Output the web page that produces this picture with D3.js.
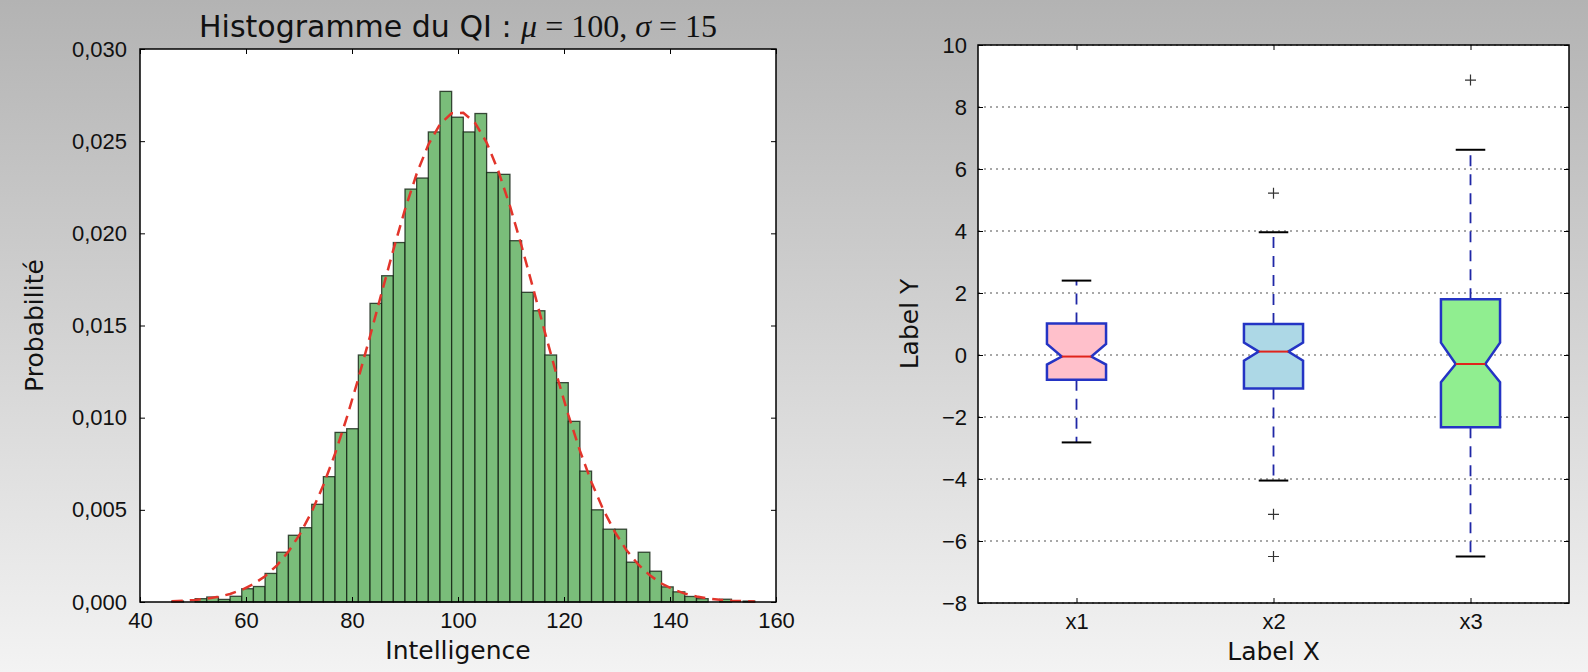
<!DOCTYPE html>
<html>
<head>
<meta charset="utf-8">
<script src="https://cdn.jsdelivr.net/npm/d3@7"></script>
<style>
  body { margin: 0; }
  svg { display: block; font-family: "DejaVu Sans", sans-serif; }
</style>
</head>
<body>
<script>
// ---- histogram data (density, 50 bins) ----
const binEdges = [46.0, 48.2, 50.4, 52.6, 54.8, 57.0, 59.2, 61.4, 63.6, 65.8,
  68.0, 70.2, 72.4, 74.6, 76.8, 79.0, 81.2, 83.4, 85.6, 87.8,
  90.0, 92.2, 94.4, 96.6, 98.8, 101.0, 103.2, 105.4, 107.6, 109.8,
  112.0, 114.2, 116.4, 118.6, 120.8, 123.0, 125.2, 127.4, 129.6, 131.8,
  134.0, 136.2, 138.4, 140.6, 142.8, 145.0, 147.2, 149.4, 151.6, 153.8, 156.0];
const density = [0.00005, 0, 0.00018, 0.00027, 0.00014, 0.00031, 0.00072, 0.00084, 0.00155, 0.0027,
  0.00362, 0.00403, 0.0053, 0.0068, 0.0092, 0.0094, 0.0134, 0.0162, 0.0177, 0.0195,
  0.0224, 0.0230, 0.0255, 0.0277, 0.0263, 0.0255, 0.0265, 0.0233, 0.0232, 0.0196,
  0.0168, 0.0158, 0.0134, 0.0119, 0.0098, 0.0071, 0.0050, 0.00395, 0.00395, 0.00216,
  0.0027, 0.00167, 0.00082, 0.00055, 0.0003, 0.00018, 0, 0.00015, 0, 0.00005];
// normal curve read at the bin edges
const pdfValues = [0.0000408, 0.0000685, 0.0001124, 0.0001806, 0.0002839, 0.000437, 0.000658, 0.000970, 0.001400, 0.001977,
  0.002732, 0.003697, 0.004894, 0.006341, 0.008042, 0.009982, 0.012126, 0.014417, 0.016776, 0.019106,
  0.021297, 0.023233, 0.024806, 0.025922, 0.026511, 0.026537, 0.025998, 0.024927, 0.023392, 0.021485,
  0.019313, 0.016990, 0.014630, 0.012329, 0.010168, 0.008208, 0.006485, 0.005015, 0.003796, 0.002811,
  0.002037, 0.001445, 0.001004, 0.000682, 0.000454, 0.000296, 0.000188, 0.000117, 0.0000717, 0.0000428, 0.0000250];
const histXTicks = [40, 60, 80, 100, 120, 140, 160];
const histYTicks = [0, 0.005, 0.010, 0.015, 0.020, 0.025, 0.030];

// ---- boxplot data ----
const boxCategories = ["x1", "x2", "x3"];
const boxColors = ["pink", "lightblue", "lightgreen"];
const boxQ1 = [-0.80, -1.08, -2.33];
const boxQ3 = [1.02, 1.00, 1.80];
const boxMedian = [-0.05, 0.11, -0.29];
const notchLow = [-0.31, -0.18, -0.88];
const notchHigh = [0.36, 0.40, 0.40];
const whiskerLow = [-2.82, -4.05, -6.50];
const whiskerHigh = [2.40, 3.96, 6.62];
const outliers = [[], [5.22, -5.14, -6.50], [8.87]];
const boxYTicks = [-8, -6, -4, -2, 0, 2, 4, 6, 8, 10];

const W = 1588, H = 672;
const svg = d3.select("body").append("svg").attr("width", W).attr("height", H);

// slide background
const grad = svg.append("defs").append("linearGradient")
  .attr("id", "bg").attr("x1", 0).attr("y1", 0).attr("x2", 0).attr("y2", 1);
grad.append("stop").attr("offset", "0%").attr("stop-color", "#b3b3b3");
grad.append("stop").attr("offset", "50%").attr("stop-color", "#d3d3d3");
grad.append("stop").attr("offset", "100%").attr("stop-color", "#f3f3f3");
svg.append("rect").attr("width", W).attr("height", H).attr("fill", "url(#bg)");

function styleAxis(g, size) {
  g.select(".domain").remove();
  g.selectAll(".tick line").attr("stroke", "#000").attr("stroke-width", 1);
  g.selectAll(".tick text").attr("fill", "#111").style("font-size", size + "px");
}

// ================= left : histogram =================
const hp = {left: 140, right: 776, top: 49, bottom: 602};
const x = d3.scaleLinear().domain([40, 160]).range([hp.left, hp.right]);
const y = d3.scaleLinear().domain([0, 0.03]).range([hp.bottom, hp.top]);
const frFormat = d3.formatLocale({decimal: ",", thousands: " ", grouping: [3], currency: ["", "€"]}).format(".3f");

svg.append("rect").attr("x", hp.left).attr("y", hp.top)
  .attr("width", hp.right - hp.left).attr("height", hp.bottom - hp.top).attr("fill", "#fff");

const bins = density.map((d, i) => ({x0: binEdges[i], x1: binEdges[i + 1], v: d}));
svg.append("g").selectAll("rect").data(bins).enter().append("rect")
  .attr("x", d => x(d.x0))
  .attr("y", d => y(d.v))
  .attr("width", d => x(d.x1) - x(d.x0))
  .attr("height", d => y(0) - y(d.v))
  .attr("fill", "#7abd7a")
  .attr("stroke", "#132013").attr("stroke-opacity", 0.8).attr("stroke-width", 1.3);

const pdfLine = d3.line().x((d, i) => x(binEdges[i])).y(d => y(d));
svg.append("path").datum(pdfValues)
  .attr("d", pdfLine)
  .attr("fill", "none").attr("stroke", "#e2352b").attr("stroke-width", 2.5)
  .attr("stroke-dasharray", "11,7");

svg.append("g").attr("transform", `translate(0,${hp.bottom})`)
  .call(d3.axisBottom(x).tickValues(histXTicks).tickSizeInner(-5).tickSizeOuter(0).tickPadding(10))
  .call(g => styleAxis(g, 22));
svg.append("g").attr("transform", `translate(0,${hp.top})`)
  .call(d3.axisTop(x).tickValues(histXTicks).tickSizeInner(-5).tickSizeOuter(0).tickFormat(""))
  .call(g => styleAxis(g, 22));
svg.append("g").attr("transform", `translate(${hp.left},0)`)
  .call(d3.axisLeft(y).tickValues(histYTicks).tickFormat(frFormat).tickSizeInner(-5).tickSizeOuter(0).tickPadding(13))
  .call(g => styleAxis(g, 22));
svg.append("g").attr("transform", `translate(${hp.right},0)`)
  .call(d3.axisRight(y).tickValues(histYTicks).tickSizeInner(-5).tickSizeOuter(0).tickFormat(""))
  .call(g => styleAxis(g, 22));

svg.append("rect").attr("x", hp.left).attr("y", hp.top)
  .attr("width", hp.right - hp.left).attr("height", hp.bottom - hp.top)
  .attr("fill", "none").attr("stroke", "#000").attr("stroke-width", 1.5);

// title with math part
const title = svg.append("text").attr("x", (hp.left + hp.right) / 2).attr("y", 37)
  .attr("text-anchor", "middle").attr("fill", "#111").style("font-size", "30px");
title.append("tspan").text("Histogramme du QI : ");
const mathFont = "'Liberation Serif', 'DejaVu Serif', serif";
title.append("tspan").style("font-family", mathFont).style("font-style", "italic").style("font-size", "32px").text("μ");
title.append("tspan").style("font-family", mathFont).style("font-size", "32px").text(" = 100, ");
title.append("tspan").style("font-family", mathFont).style("font-style", "italic").style("font-size", "32px").text("σ");
title.append("tspan").style("font-family", mathFont).style("font-size", "32px").text(" = 15");

svg.append("text").attr("x", (hp.left + hp.right) / 2).attr("y", 659)
  .attr("text-anchor", "middle").attr("fill", "#111").style("font-size", "25px").text("Intelligence");
svg.append("text").attr("transform", `translate(43,${(hp.top + hp.bottom) / 2}) rotate(-90)`)
  .attr("text-anchor", "middle").attr("fill", "#111").style("font-size", "25px").text("Probabilité");

// ================= right : boxplot =================
const bp = {left: 978, right: 1569, top: 45, bottom: 603};
const xb = d3.scalePoint().domain(boxCategories).range([bp.left, bp.right]).padding(0.5);
const yb = d3.scaleLinear().domain([-8, 10]).range([bp.bottom, bp.top]);
const halfW = xb.step() * 0.15, capW = halfW / 2;

svg.append("rect").attr("x", bp.left).attr("y", bp.top)
  .attr("width", bp.right - bp.left).attr("height", bp.bottom - bp.top).attr("fill", "#fff");

svg.append("g").selectAll("line").data(boxYTicks).enter().append("line")
  .attr("x1", bp.left).attr("x2", bp.right)
  .attr("y1", d => yb(d)).attr("y2", d => yb(d))
  .attr("stroke", "#8a8a8a").attr("stroke-width", 1.5).attr("stroke-dasharray", "2,4");

const boxes = boxCategories.map((c, i) => ({
  c, color: boxColors[i], q1: boxQ1[i], q3: boxQ3[i], med: boxMedian[i],
  nlo: notchLow[i], nhi: notchHigh[i], wlo: whiskerLow[i], whi: whiskerHigh[i], out: outliers[i]
}));

const g = svg.append("g");
const bx = g.selectAll("g.box").data(boxes).enter().append("g").attr("class", "box");

// whiskers
bx.append("line").attr("x1", d => xb(d.c)).attr("x2", d => xb(d.c))
  .attr("y1", d => yb(d.q3)).attr("y2", d => yb(d.whi))
  .attr("stroke", "#1f27a6").attr("stroke-width", 1.8).attr("stroke-dasharray", "11,8");
bx.append("line").attr("x1", d => xb(d.c)).attr("x2", d => xb(d.c))
  .attr("y1", d => yb(d.q1)).attr("y2", d => yb(d.wlo))
  .attr("stroke", "#1f27a6").attr("stroke-width", 1.8).attr("stroke-dasharray", "11,8");
// caps
bx.append("line").attr("x1", d => xb(d.c) - capW).attr("x2", d => xb(d.c) + capW)
  .attr("y1", d => yb(d.whi)).attr("y2", d => yb(d.whi))
  .attr("stroke", "#000").attr("stroke-width", 2);
bx.append("line").attr("x1", d => xb(d.c) - capW).attr("x2", d => xb(d.c) + capW)
  .attr("y1", d => yb(d.wlo)).attr("y2", d => yb(d.wlo))
  .attr("stroke", "#000").attr("stroke-width", 2);

// notched boxes
const boxLine = d3.line();
bx.append("path")
  .attr("d", d => {
    const c = xb(d.c);
    return boxLine([
      [c - halfW, yb(d.q1)], [c + halfW, yb(d.q1)], [c + halfW, yb(d.nlo)],
      [c + capW, yb(d.med)], [c + halfW, yb(d.nhi)], [c + halfW, yb(d.q3)],
      [c - halfW, yb(d.q3)], [c - halfW, yb(d.nhi)], [c - capW, yb(d.med)],
      [c - halfW, yb(d.nlo)]
    ]) + "Z";
  })
  .attr("fill", d => d.color)
  .attr("stroke", "#2434c4").attr("stroke-width", 2.5).attr("stroke-linejoin", "miter");
// medians
bx.append("line").attr("x1", d => xb(d.c) - capW).attr("x2", d => xb(d.c) + capW)
  .attr("y1", d => yb(d.med)).attr("y2", d => yb(d.med))
  .attr("stroke", "#e0241c").attr("stroke-width", 2);
// outliers
bx.selectAll("path.flier").data(d => d.out.map(v => ({c: d.c, v}))).enter().append("path")
  .attr("class", "flier")
  .attr("d", d => {
    const cx = xb(d.c), cy = yb(d.v), s = 5.5;
    return `M${cx - s},${cy}H${cx + s}M${cx},${cy - s}V${cy + s}`;
  })
  .attr("stroke", "#333").attr("stroke-width", 1.2);

svg.append("g").attr("transform", `translate(0,${bp.bottom})`)
  .call(d3.axisBottom(xb).tickSizeInner(-5).tickSizeOuter(0).tickPadding(10))
  .call(g => styleAxis(g, 22));
svg.append("g").attr("transform", `translate(0,${bp.top})`)
  .call(d3.axisTop(xb).tickSizeInner(-5).tickSizeOuter(0).tickFormat(""))
  .call(g => styleAxis(g, 22));
svg.append("g").attr("transform", `translate(${bp.left},0)`)
  .call(d3.axisLeft(yb).tickValues(boxYTicks).tickSizeInner(-5).tickSizeOuter(0).tickPadding(11))
  .call(g => styleAxis(g, 22));
svg.append("g").attr("transform", `translate(${bp.right},0)`)
  .call(d3.axisRight(yb).tickValues(boxYTicks).tickSizeInner(-5).tickSizeOuter(0).tickFormat(""))
  .call(g => styleAxis(g, 22));

svg.append("rect").attr("x", bp.left).attr("y", bp.top)
  .attr("width", bp.right - bp.left).attr("height", bp.bottom - bp.top)
  .attr("fill", "none").attr("stroke", "#000").attr("stroke-width", 1.5);

svg.append("text").attr("x", (bp.left + bp.right) / 2).attr("y", 660)
  .attr("text-anchor", "middle").attr("fill", "#111").style("font-size", "25px").text("Label X");
svg.append("text").attr("transform", `translate(918,${(bp.top + bp.bottom) / 2}) rotate(-90)`)
  .attr("text-anchor", "middle").attr("fill", "#111").style("font-size", "25px").text("Label Y");
</script>
</body>
</html>
